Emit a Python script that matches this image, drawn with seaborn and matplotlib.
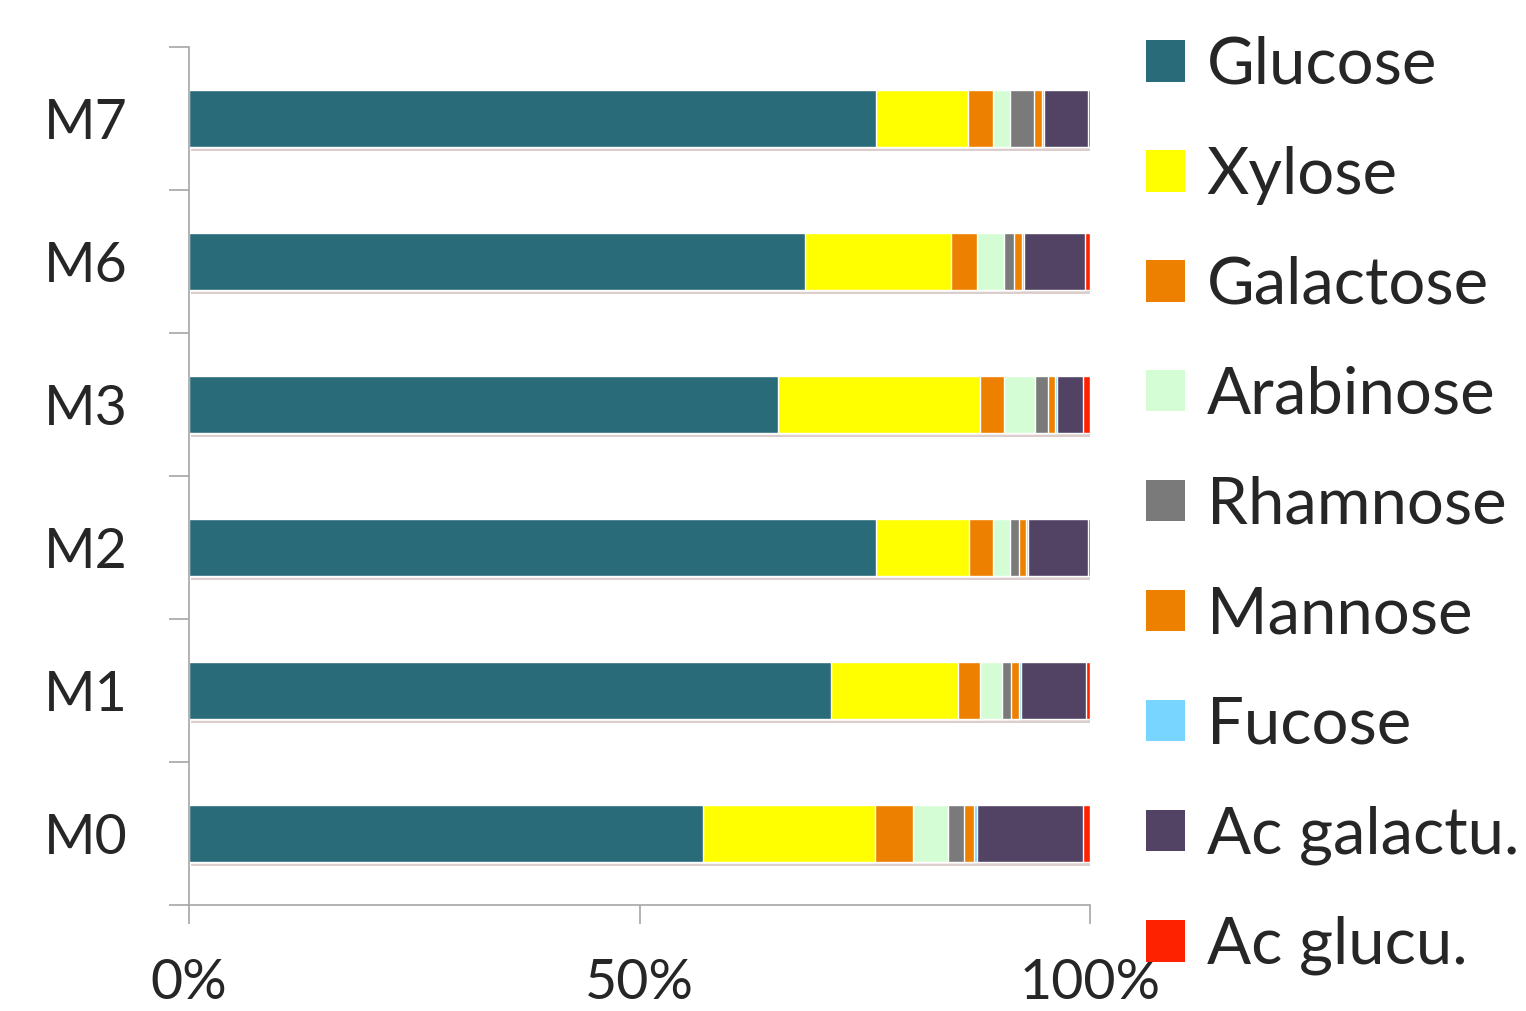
import matplotlib
matplotlib.use('Agg')
import matplotlib.pyplot as plt
import matplotlib.patheffects as pe
from matplotlib.patches import Patch
from matplotlib.ticker import FixedLocator, FuncFormatter
import numpy as np
import pandas as pd
import seaborn as sns

# composition of each sample (% of total sugars)
samples = ['M7', 'M6', 'M3', 'M2', 'M1', 'M0']
sugars = ['Glucose', 'Xylose', 'Galactose', 'Arabinose', 'Rhamnose',
          'Mannose', 'Fucose', 'Ac galactu.', 'Ac glucu.']
glucose   = [76.3, 68.4, 65.4, 76.3, 71.3, 57.0]
xylose    = [10.2, 16.2, 22.5, 10.3, 14.0, 19.1]
galactose = [2.8, 2.9, 2.7, 2.6, 2.5, 4.2]
arabinose = [1.85, 2.9, 3.4, 1.9, 2.4, 3.95]
rhamnose  = [2.7, 1.2, 1.45, 1.05, 1.0, 1.75]
mannose   = [0.85, 0.9, 0.8, 0.8, 0.9, 1.1]
fucose    = [0.2, 0.2, 0.2, 0.2, 0.25, 0.35]
ac_galact = [4.9, 6.8, 2.9, 6.6, 7.25, 11.8]
ac_glucu  = [0.25, 0.5, 0.75, 0.25, 0.4, 0.75]

colors = ['#2A6B7A', '#FFFF00', '#EE8000', '#D5FDD5', '#7A7A7A',
          '#EE8000', '#77D5FF', '#524263', '#FF2200']

sns.set_style('white')
plt.rcParams['font.family'] = ['Lato', 'DejaVu Sans']

df = pd.DataFrame(dict(zip(sugars, [glucose, xylose, galactose, arabinose, rhamnose,
                                    mannose, fucose, ac_galact, ac_glucu])), index=samples)
df = df.div(df.sum(axis=1), axis=0) * 100
cum = df.cumsum(axis=1)

fig = plt.figure(figsize=(15.26, 10.11), dpi=100)
ax = fig.add_axes([189 / 1526, 1 - 905 / 1011, (1090 - 189) / 1526, (905 - 47) / 1011])

# stacked bars: draw cumulative totals from the longest down
for i in range(len(sugars) - 1, -1, -1):
    sns.barplot(x=cum[sugars[i]].values, y=samples, order=samples, orient='h',
                color=colors[i], saturation=1, width=0.4, errorbar=None, ax=ax)
    if i == len(sugars) - 1:
        for p in ax.patches:
            p.set_path_effects([pe.SimplePatchShadow(offset=(1.5, -3), alpha=0.2), pe.Normal()])

ax.set_xlim(0, 100)
ax.set_ylim(5.5, -0.5)
ax.set_xlabel('')
ax.set_ylabel('')

for s in ['top', 'right']:
    ax.spines[s].set_visible(False)
for s in ['left', 'bottom']:
    ax.spines[s].set_color('#A6A6A6')
    ax.spines[s].set_linewidth(1.2)

ax.set_xticks([0, 50, 100])
ax.xaxis.set_major_formatter(FuncFormatter(lambda v, _: '%d%%' % v))
ax.tick_params(axis='x', bottom=True, length=14, width=1.2, color='#A6A6A6', direction='out',
               pad=24, labelsize=40)
ax.tick_params(axis='y', which='major', left=True, length=0, pad=44, labelsize=40)
ax.yaxis.set_minor_locator(FixedLocator(np.arange(-0.5, 6, 1)))
ax.tick_params(axis='y', which='minor', left=True, length=14.5, width=1.2,
               color='#A6A6A6', direction='out')

handles = [Patch(facecolor=c, edgecolor='none') for c in colors]
fig.legend(handles, sugars, loc='upper left', bbox_to_anchor=(1146 / 1526, 1 - 36 / 1011),
           frameon=False, fontsize=47, handlelength=0.6, handleheight=0.6,
           handletextpad=0.33, labelspacing=0.78, borderpad=0, borderaxespad=0)

fig.savefig('out.png', dpi=100)
